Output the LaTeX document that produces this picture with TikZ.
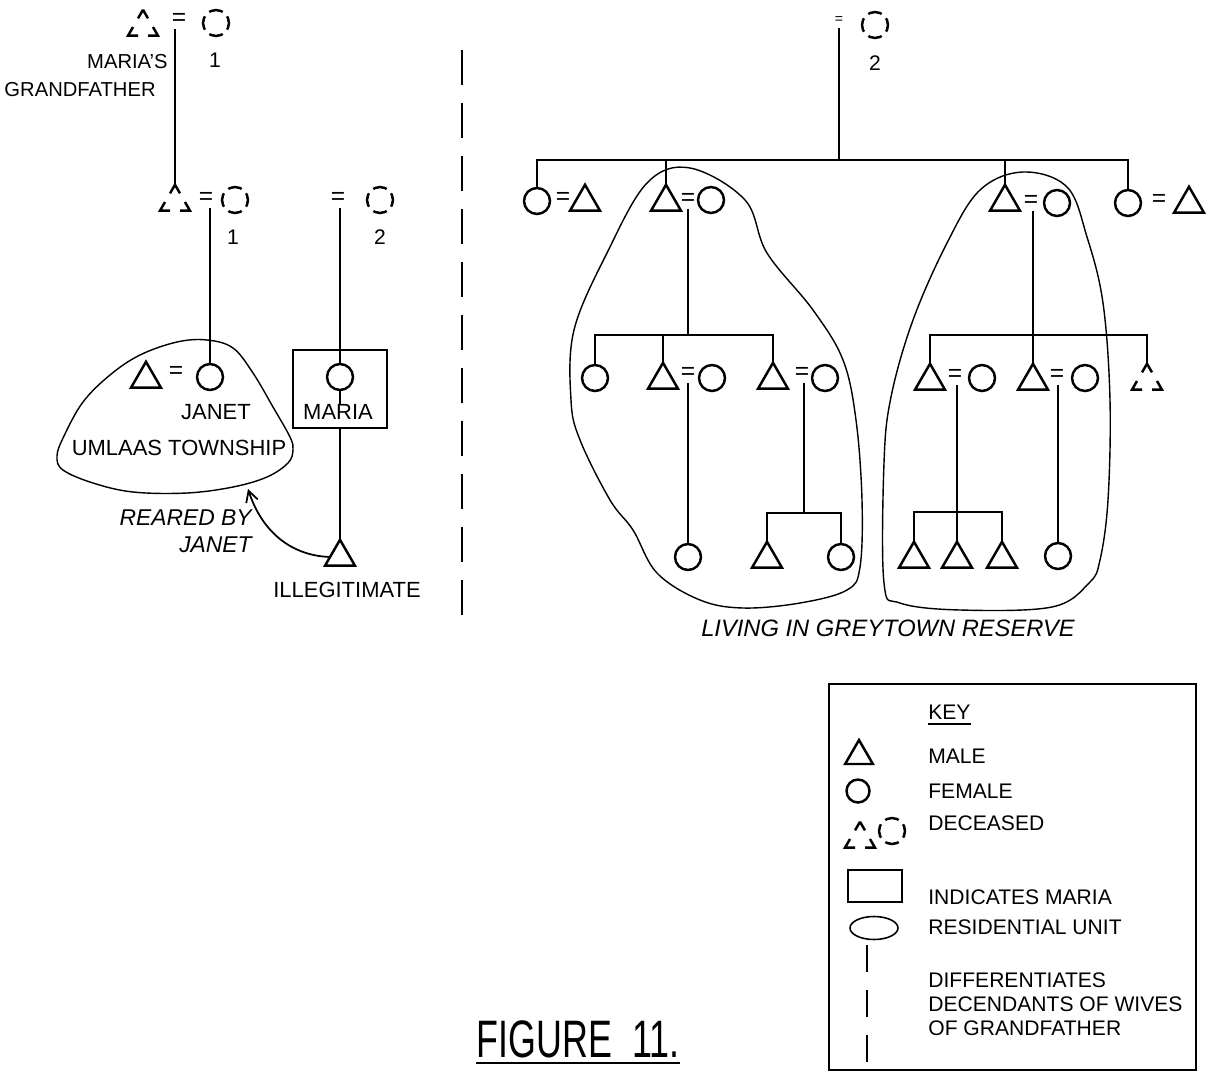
\documentclass[tikz,border=0pt]{standalone}
\usepackage{graphicx}
\usepackage{fontspec}
\setmainfont{Liberation Sans}
\usetikzlibrary{shapes.geometric,arrows.meta}

\begin{document}
\begin{tikzpicture}[x=0.02cm, y=-0.02cm,
    male/.style={regular polygon, regular polygon sides=3, draw, line width=1.4pt, minimum size=0.69cm, inner sep=0pt, outer sep=0pt},
    female/.style={circle, draw, line width=1.4pt, minimum size=0.52cm, inner sep=0pt, outer sep=0pt},
    deadmale/.style={male, dash pattern=on 11.34pt off 5.67pt, dash phase=5.67pt},
    deadfemale/.style={female, dash pattern=on 8pt off 3.56pt, dash phase=4pt},
    eq/.style={font=\fontsize{14}{14}\selectfont, inner sep=2pt},
    smalleq/.style={font=\fontsize{8}{8}\selectfont, inner sep=2.5pt},
    lbl/.style={font=\fontsize{12.5}{14}\selectfont, inner sep=0pt},
    num/.style={font=\fontsize{12}{14}\selectfont, inner sep=0pt},
    note/.style={font=\fontsize{13}{15.4}\selectfont\itshape, inner sep=0pt},
    keytxt/.style={font=\fontsize{12}{13.7}\selectfont, anchor=west, inner sep=0pt, align=left},
    link/.style={line width=1.3pt},
    unit/.style={draw, line width=0.8pt},
    divider/.style={line width=1.1pt, dash pattern=on 0.7cm off 0.36cm}
]
\useasboundingbox (0,0) rectangle (1221,1075);

% Left side: grandfather and wife 1
\node[deadmale] (gf) at (143,27) {};
\node[eq] (gfEq) at (179,19) {=};
\node[deadfemale] (gfW1) at (216,23) {};
\node[num] (gfW1n) at (215,60) {1};
\node[lbl, anchor=east, font=\fontsize{11.5}{13}\selectfont] (gfLblA) at (168,62) {MARIA'S};
\node[lbl, anchor=east, font=\fontsize{11.5}{13}\selectfont] (gfLblB) at (156,90) {GRANDFATHER};

\node[deadmale] (fa) at (175,202) {};
\node[eq] (faEq1) at (206,198) {=};
\node[deadfemale] (faW1) at (235,200) {};
\node[num] (faW1n) at (233,237) {1};
\node[eq] (faEq2) at (338,198) {=};
\node[deadfemale] (faW2) at (380,200) {};
\node[num] (faW2n) at (380,237) {2};

\node[male] (janetH) at (146,379) {};
\node[eq] (janetEq) at (176,372) {=};
\node[female] (janet) at (210,377) {};
\node[lbl] (janetTxt) at (216,412) {JANET};
\node[lbl] (umlaas) at (179,448) {UMLAAS TOWNSHIP};

\node[draw, line width=1.3pt, minimum width=1.88cm, minimum height=1.56cm] (mbox) at (340,389) {};
\node[female] (maria) at (340,377) {};
\node[lbl] (mariaTxt) at (338,412) {MARIA};
\node[male] (son) at (340,557) {};
\node[lbl] (illeg) at (347,590) {ILLEGITIMATE};
\node[note, align=right, anchor=east] (reared) at (252,531) {REARED BY\\JANET};

\draw[unit] plot[smooth cycle, tension=0.6] coordinates {(207,340) (233,348) (253,373) (273,407) (290,437) (293,450) (288,463) (267,477) (233,487) (187,493) (133,492) (93,483) (63,470) (57,456) (64,436) (83,402) (110,375) (140,355) (177,342)};
\coordinate (rearTip) at (248,489);

\draw[link] (gfEq.south -| fa.north) -- (fa.north);
\draw[link] (faEq1.south -| janet.north) -- (janet.north);
\draw[link] (faEq2.south -| maria.north) -- (maria.north);
\draw[link] (maria.south) -- (maria.south |- mariaTxt.north);
\draw[link] (mbox.south -| son.north) -- (son.north);
\draw[line width=1pt, -{Straight Barb[length=2.2mm, width=2.4mm]}] (son.west) to[out=178, in=-72] (rearTip);

% Divider between the wives
\coordinate (divTop) at (462,50);
\coordinate (divBot) at (462,615);
\draw[divider] (divTop) -- (divBot);

% Right side: wife 2
\node[smalleq] (topEq) at (839,20) {=};
\node[deadfemale] (gfW2) at (875,25) {};
\node[num] (gfW2n) at (875,63) {2};
\coordinate (barR) at (839,160);

\node[female] (c1) at (537,201) {};
\node[eq] (c1Eq) at (563,198) {=};
\node[male] (c1h) at (585,202) {};
\node[male] (c2) at (666,202) {};
\node[eq] (c2Eq) at (688,199) {=};
\node[female] (c2w) at (711,200) {};
\node[male] (c3) at (1005,202) {};
\node[eq] (c3Eq) at (1031,201) {=};
\node[female] (c3w) at (1057,203) {};
\node[female] (c4) at (1128,203) {};
\node[eq] (c4Eq) at (1159,200) {=};
\node[male] (c4h) at (1189,204) {};

\node[female] (g1) at (595,378) {};
\node[male] (g2) at (663,380) {};
\node[eq] (g2Eq) at (688,373) {=};
\node[female] (g2w) at (712,378) {};
\node[male] (g3) at (773,380) {};
\node[eq] (g3Eq) at (802,373) {=};
\node[female] (g3w) at (825,378) {};
\coordinate (bar2L) at (688,335);

\node[female] (h1) at (688,557) {};
\node[male] (h2) at (767,559) {};
\node[female] (h3) at (841,557) {};
\coordinate (bar3L) at (804,513);

\node[male] (k1) at (930,381) {};
\node[eq] (k1Eq) at (955,375) {=};
\node[female] (k1w) at (982,378) {};
\node[male] (k2) at (1033,381) {};
\node[eq] (k2Eq) at (1057,375) {=};
\node[female] (k2w) at (1085,378) {};
\node[deadmale] (k3) at (1147,381) {};
\coordinate (bar2R) at (1033,335);

\node[male] (m1) at (914,559) {};
\node[male] (m2) at (957,559) {};
\node[male] (m3) at (1002,559) {};
\node[female] (m4) at (1058,556) {};
\coordinate (bar3R) at (957,512);

\draw[link] (topEq.south -| barR) -- (barR);
\draw[link] (c1.north) |- (barR) -| (c4.north);
\draw[link] (c2.north) -- (c2.north |- barR);
\draw[link] (c3.north) -- (c3.north |- barR);

\draw[link] (c2Eq.south -| bar2L) -- (bar2L);
\draw[link] (g1.north) |- (bar2L) -| (g3.north);
\draw[link] (g2.north) -- (g2.north |- bar2L);
\draw[link] (g2Eq.south -| h1.north) -- (h1.north);
\draw[link] (g3Eq.south -| bar3L) -- (bar3L);
\draw[link] (h2.north) |- (bar3L) -| (h3.north);

\draw[link] (c3Eq.south -| bar2R) -- (bar2R);
\draw[link] (k1.north) |- (bar2R) -| (k3.north);
\draw[link] (k2.north) -- (k2.north |- bar2R);
\draw[link] (k1Eq.south -| m2.north) -- (m2.north);
\draw[link] (m1.north) |- (bar3R) -| (m3.north);
\draw[link] (k2Eq.south -| m4.north) -- (m4.north);

% Residential units
\draw[unit] plot[smooth cycle, tension=0.6] coordinates {(690,168) (745,200) (767,253) (813,310) (843,360) (856,420) (862,500) (860,567) (847,590) (800,603) (743,608) (700,600) (657,573) (633,530) (610,500) (580,440) (571,400) (574,330) (607,253) (647,183)};
\draw[unit] plot[smooth cycle, tension=0.6] coordinates {(1023,172) (1067,187) (1087,237) (1103,303) (1110,400) (1108,500) (1100,560) (1089,583) (1052,607) (960,610) (900,603) (884,583) (884,463) (891,397) (913,320) (947,243) (980,190)};
\node[note, font=\fontsize{13.5}{15}\selectfont\itshape] (greytown) at (888,628) {LIVING IN GREYTOWN RESERVE};

% Key
\node[draw, line width=1.1pt, minimum width=7.34cm, minimum height=7.72cm] (keybox) at (1012.5,877) {};
\node[keytxt] (keyT) at (928,712) {KEY};
\draw[line width=0.9pt] ([yshift=-2.5pt]keyT.south west) -- ([yshift=-2.5pt]keyT.south east);
\node[male, minimum size=0.64cm] (kMale) at (859,756) {};
\node[keytxt] (kMaleT) at (928,756) {MALE};
\node[female, minimum size=0.46cm] (kFem) at (858,791) {};
\node[keytxt] (kFemT) at (928,791) {FEMALE};
\node[deadmale] (kDM) at (860,839) {};
\node[deadfemale] (kDF) at (892,831) {};
\node[keytxt] (kDeadT) at (928,823) {DECEASED};
\node[draw, line width=1.1pt, minimum width=1.08cm, minimum height=0.64cm] (kBox) at (875,886) {};
\node[keytxt] (kBoxT) at (928,897) {INDICATES MARIA};
\node[ellipse, draw, line width=0.9pt, minimum width=0.96cm, minimum height=0.46cm] (kUnit) at (874,928) {};
\node[keytxt] (kUnitT) at (928,927) {RESIDENTIAL UNIT};
\coordinate (kDivTop) at (867,945);
\coordinate (kDivBot) at (867,1070);
\draw[divider, dash pattern=on 0.54cm off 0.36cm] (kDivTop) -- (kDivBot);
\node[keytxt] (kDivT) at (928,1004) {DIFFERENTIATES\\DECENDANTS OF WIVES\\OF GRANDFATHER};

% Title
\node[inner sep=0pt, font=\fontsize{30}{30}\selectfont] (title) at (578,1039) {\scalebox{0.68}[1]{FIGURE\ \ 11.}};
\draw[line width=1pt] ([yshift=-2.8pt]title.south west) -- ([yshift=-2.8pt]title.south east);
\end{tikzpicture}
\end{document}
